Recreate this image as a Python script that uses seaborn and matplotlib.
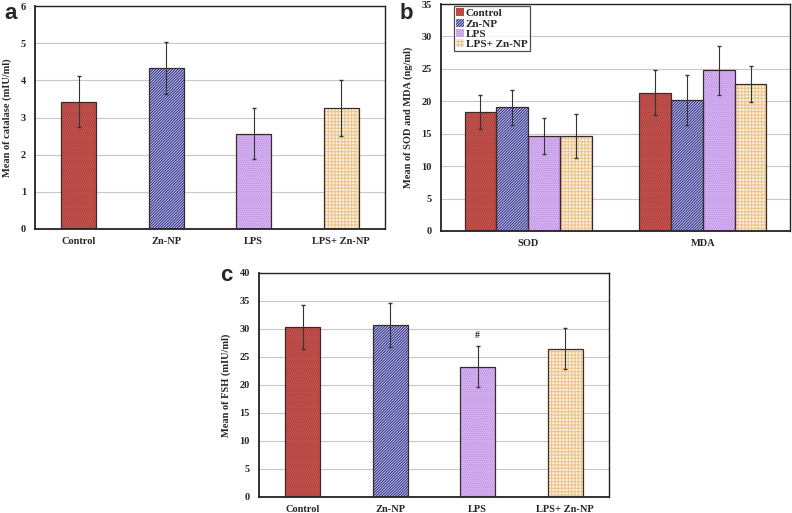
import numpy as np
import pandas as pd
import matplotlib
matplotlib.use("Agg")
import matplotlib.pyplot as plt
from matplotlib.patches import Patch, Rectangle
import seaborn as sns

# data
groups = ["Control", "Zn-NP", "LPS", "LPS+ Zn-NP"]

catalase = [3.43, 4.32, 2.56, 3.26]
catalase_sd = [0.69, 0.70, 0.69, 0.76]

markers = ["SOD", "MDA"]
sod = [18.3, 19.1, 14.6, 14.7]
sod_sd = [2.6, 2.7, 2.8, 3.4]
mda = [21.3, 20.2, 24.8, 22.7]
mda_sd = [3.45, 3.8, 3.8, 2.8]

fsh = [30.4, 30.7, 23.3, 26.5]
fsh_sd = [3.9, 3.9, 3.6, 3.6]

# bar styles: face colour, hatch colour, hatch
face = ["#c9524e", "#d0d0f0", "#dcb8f4", "#fdf2e2"]
hatch_col = ["#a2403c", "#34348a", "#b48ae0", "#ebc48e"]
hatches = ["........", "////////////", "........", "+++++"]

sns.set_style("white")
plt.rcParams["font.family"] = ["Liberation Serif", "DejaVu Serif"]
plt.rcParams["font.weight"] = "bold"
plt.rcParams["hatch.linewidth"] = 0.8

fig = plt.figure(figsize=(7.92, 5.13), dpi=100)
ax_a = fig.add_axes([35/792, 1-229/513, 350/792, 223/513])
ax_b = fig.add_axes([441/792, 1-231/513, 349/792, 227/513])
ax_c = fig.add_axes([259/792, 1-497/513, 350/792, 224/513])


def style_bars(ax):
    conts = list(ax.containers)
    for i, cont in enumerate(conts):
        for p in cont:
            p.set_facecolor(face[i])
            p.set_edgecolor(hatch_col[i])
            p.set_hatch(hatches[i])
            p.set_linewidth(0)
            ax.add_patch(Rectangle(p.get_xy(), p.get_width(), p.get_height(),
                                   fill=False, edgecolor="#3a2a2a", lw=0.9, zorder=3))
    return conts


def style_axes(ax, ylim, step, ncat, ylabel):
    ax.set_ylim(0, ylim)
    ax.set_xlim(-0.5, ncat - 0.5)
    ax.set_yticks(np.arange(0, ylim + 0.1, step))
    ax.yaxis.grid(True, color="#c8c8c8", lw=0.8)
    ax.set_axisbelow(True)
    ax.set_xticks(np.arange(-0.5, ncat, 1.0))
    ax.set_xticklabels([])
    ax.set_xticks(np.arange(ncat), minor=True)
    ax.tick_params(axis="x", which="major", direction="out", length=4, width=0.9, color="#222")
    ax.tick_params(axis="x", which="minor", length=0, labelsize=7.5, pad=6)
    ax.tick_params(axis="y", direction="out", length=3, width=0.9, labelsize=7.5, color="#222")
    for s in ax.spines.values():
        s.set_color("#222")
        s.set_linewidth(1.0)
    ax.spines["left"].set_linewidth(1.3)
    ax.spines["bottom"].set_linewidth(1.3)
    ax.set_xlabel("")
    ax.set_ylabel(ylabel, fontsize=7.5, fontweight="bold", labelpad=6)
    for t in ax.get_yticklabels():
        t.set_fontweight("bold")


# panel a
df_a = pd.DataFrame({"group": groups, "value": catalase})
sns.barplot(data=df_a, x="group", y="value", hue="group", width=0.4,
            errorbar=None, legend=False, ax=ax_a)
conts = style_bars(ax_a)
xs = [c[0].get_x() + c[0].get_width() / 2 for c in conts]
ax_a.errorbar(xs, catalase, yerr=catalase_sd, fmt="none", ecolor="#333",
              elinewidth=0.8, capsize=1.5, zorder=4)
style_axes(ax_a, 6, 1, 4, "Mean of catalase (mIU/ml)")
ax_a.set_xticklabels(groups, minor=True, fontweight="bold")

# panel b
df_b = pd.DataFrame({
    "marker": np.repeat(markers, 4),
    "group": groups * 2,
    "value": sod + mda,
})
sns.barplot(data=df_b, x="marker", y="value", hue="group", width=0.73,
            errorbar=None, legend=False, ax=ax_b)
conts = style_bars(ax_b)
for i, cont in enumerate(conts):
    xs = [p.get_x() + p.get_width() / 2 for p in cont]
    ax_b.errorbar(xs, [sod[i], mda[i]], yerr=[sod_sd[i], mda_sd[i]], fmt="none",
                  ecolor="#333", elinewidth=0.8, capsize=1.5, zorder=4)
style_axes(ax_b, 35, 5, 2, "Mean of SOD and MDA (ng/ml)")
ax_b.set_xticklabels(markers, minor=True, fontweight="bold")
handles = [Patch(facecolor=face[i], edgecolor=hatch_col[i], hatch=hatches[i], lw=0)
           for i in range(4)]
leg = ax_b.legend(handles, groups, loc="upper left", bbox_to_anchor=(0.03, 1.0),
                  frameon=True, fancybox=False, edgecolor="#222", fontsize=8,
                  handlelength=0.7, handleheight=0.7, handletextpad=0.2,
                  labelspacing=0.05, borderpad=0.2, borderaxespad=0.2)
leg.get_frame().set_linewidth(0.9)
for t in leg.get_texts():
    t.set_fontweight("bold")

# panel c
df_c = pd.DataFrame({"group": groups, "value": fsh})
sns.barplot(data=df_c, x="group", y="value", hue="group", width=0.4,
            errorbar=None, legend=False, ax=ax_c)
conts = style_bars(ax_c)
xs = [c[0].get_x() + c[0].get_width() / 2 for c in conts]
ax_c.errorbar(xs, fsh, yerr=fsh_sd, fmt="none", ecolor="#333",
              elinewidth=0.8, capsize=1.5, zorder=4)
style_axes(ax_c, 40, 5, 4, "Mean of FSH (mIU/ml)")
ax_c.set_xticklabels(groups, minor=True, fontweight="bold")
ax_c.text(xs[2], fsh[2] + fsh_sd[2] + 1.2, "#", ha="center", va="bottom",
          fontsize=7, fontweight="bold")

# panel letters
for x, y, s in [(4, 510, "a"), (400, 510, "b"), (220, 248, "c")]:
    fig.text(x/792, y/513, s, family=["Liberation Sans", "DejaVu Sans"],
             fontsize=16, fontweight="bold", va="top", ha="left")

fig.savefig("out.png", dpi=100)
